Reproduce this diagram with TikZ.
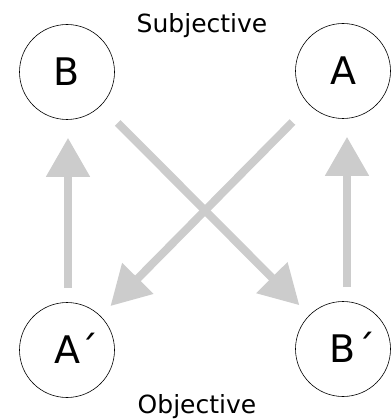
\documentclass[tikz,border=0pt]{standalone}
\usepackage{fontspec}
\setmainfont{DejaVu Sans}
\usetikzlibrary{arrows.meta}
\definecolor{arrowgray}{RGB}{204,204,204}

\begin{document}
\begin{tikzpicture}[x=1pt,y=-1pt,
	place/.style={draw=black,line width=0.6pt,circle,minimum size=95pt,inner sep=0pt,font=\fontsize{38}{38}\selectfont},
	flow/.style={draw=arrowgray,line width=8pt,-{Triangle[width=42pt,length=39pt]}}]
	\useasboundingbox (0,0) rectangle (390,419);

	%circles
	\node[place] (B) at (67,72) {B};
	\node[place] (A) at (343,71) {A};
	\node[place] (Aprime) at (67,350) {A\rlap{\smash{´}}};
	\node[place] (Bprime) at (343,349) {B\rlap{\smash{´}}};

	%arrows
	\draw[flow,shorten <=14pt,shorten >=18pt] ([xshift=1pt]Aprime.north) -- ([xshift=1pt]B.south);
	\draw[flow,shorten <=14pt,shorten >=18pt] ([xshift=4pt]Bprime.north) -- ([xshift=4pt]A.south);
	\draw[flow,shorten <=24pt,shorten >=14pt] (B) -- (Bprime);
	\draw[flow,shorten <=24pt,shorten >=14pt] (A) -- (Aprime);

	%labels
	\node[anchor=base,font=\fontsize{25}{25}\selectfont] (subj) at (202,33) {Subjective};
	\node[anchor=base,font=\fontsize{25}{25}\selectfont] (obj) at (197,413) {Objective};
\end{tikzpicture}
\end{document}
